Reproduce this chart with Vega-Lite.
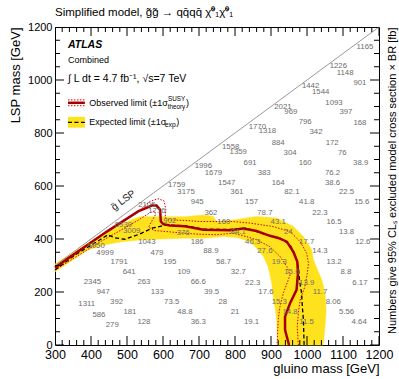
{
"$schema": "https://vega.github.io/schema/vega-lite/v6.json",
"width": 324, "height": 318,
"autosize": {"type": "none"},
"padding": {"left": 55, "top": 27, "right": 20, "bottom": 34},
"title": {"text": "Simplified model, g\u0303g\u0303 \u2192 qq\u0304qq\u0304 \u03c7\u0303\u2070\u2081\u03c7\u0303\u2070\u2081", "anchor": "start", "frame": "group", "fontSize": 11.5, "font": "Liberation Sans", "fontWeight": "normal", "offset": 3, "color": "#000"},
"config": {"view": {"stroke": "#000", "strokeWidth": 1}, "font": "Liberation Sans",
  "axis": {"grid": false, "domain": false, "ticks": false, "labelColor": "#000", "titleColor": "#000", "labelFont": "Liberation Sans", "titleFont": "Liberation Sans", "titleFontWeight": "normal"}},
"datasets": {
  "band": [
    {"o":1,"x":300,"y":306},{"o":2,"x":425,"y":413},{"o":3,"x":508,"y":470},{"o":4,"x":536,"y":484},{"o":5,"x":661,"y":484},{"o":6,"x":712,"y":491},{"o":7,"x":740,"y":485},{"o":8,"x":749,"y":466},{"o":9,"x":795,"y":472},{"o":10,"x":860,"y":485},{"o":11,"x":916,"y":479},{"o":12,"x":962,"y":447},{"o":13,"x":990,"y":409},{"o":14,"x":1013,"y":359},{"o":15,"x":1018,"y":321},{"o":16,"x":1027,"y":291},{"o":17,"x":1041,"y":246},{"o":18,"x":1050,"y":195},{"o":19,"x":1053,"y":132},{"o":20,"x":1050,"y":69},{"o":21,"x":1045,"y":0},
    {"o":22,"x":920,"y":0},{"o":23,"x":917,"y":44},{"o":24,"x":916,"y":95},{"o":25,"x":911,"y":145},{"o":26,"x":905,"y":195},{"o":27,"x":902,"y":234},{"o":28,"x":892,"y":296},{"o":29,"x":879,"y":334},{"o":30,"x":860,"y":365},{"o":31,"x":842,"y":390},{"o":32,"x":805,"y":406},{"o":33,"x":767,"y":409},{"o":34,"x":712,"y":403},{"o":35,"x":652,"y":403},{"o":36,"x":578,"y":399},{"o":37,"x":541,"y":397},{"o":38,"x":485,"y":390},{"o":39,"x":439,"y":378},{"o":40,"x":392,"y":359},{"o":41,"x":300,"y":276}
  ],
  "obs": [
    {"o":1,"x":300,"y":291},{"o":2,"x":337,"y":327},{"o":3,"x":444,"y":428},{"o":4,"x":531,"y":504},{"o":5,"x":569,"y":526},{"o":6,"x":582,"y":526},{"o":7,"x":592,"y":510},{"o":8,"x":594,"y":466},{"o":9,"x":601,"y":456},{"o":10,"x":619,"y":451},{"o":11,"x":661,"y":448},{"o":12,"x":712,"y":435},{"o":13,"x":786,"y":433},{"o":14,"x":823,"y":440},{"o":15,"x":860,"y":430},{"o":16,"x":897,"y":412},{"o":17,"x":920,"y":404},{"o":18,"x":944,"y":390},{"o":19,"x":962,"y":352},{"o":20,"x":973,"y":315},{"o":21,"x":975,"y":271},{"o":22,"x":971,"y":208},{"o":23,"x":953,"y":158},{"o":24,"x":939,"y":107},{"o":25,"x":939,"y":57},{"o":26,"x":950,"y":0}
  ],
  "exp": [
    {"o":1,"x":300,"y":283},{"o":2,"x":356,"y":340},{"o":3,"x":425,"y":397},{"o":4,"x":447,"y":416},{"o":5,"x":467,"y":404},{"o":6,"x":494,"y":399},{"o":7,"x":536,"y":419},{"o":8,"x":572,"y":442},{"o":9,"x":611,"y":453},{"o":10,"x":661,"y":450},{"o":11,"x":712,"y":437},{"o":12,"x":786,"y":436},{"o":13,"x":832,"y":441},{"o":14,"x":879,"y":419},{"o":15,"x":925,"y":403},{"o":16,"x":953,"y":378},{"o":17,"x":967,"y":340},{"o":18,"x":976,"y":296},{"o":19,"x":979,"y":246},{"o":20,"x":985,"y":195},{"o":21,"x":987,"y":145},{"o":22,"x":990,"y":95},{"o":23,"x":992,"y":0}
  ],
  "obsUp": [
    {"o":1,"x":300,"y":298},{"o":2,"x":425,"y":412},{"o":3,"x":536,"y":510},{"o":4,"x":564,"y":542},{"o":5,"x":586,"y":552},{"o":6,"x":603,"y":544},{"o":7,"x":608,"y":510},{"o":8,"x":606,"y":480},{"o":9,"x":619,"y":472},{"o":10,"x":661,"y":470},{"o":11,"x":703,"y":466},{"o":12,"x":795,"y":466},{"o":13,"x":842,"y":460},{"o":14,"x":906,"y":447},{"o":15,"x":953,"y":428},{"o":16,"x":981,"y":390},{"o":17,"x":999,"y":346},{"o":18,"x":1004,"y":309},{"o":19,"x":1001,"y":271},{"o":20,"x":994,"y":220},{"o":21,"x":981,"y":170},{"o":22,"x":976,"y":120},{"o":23,"x":973,"y":69},{"o":24,"x":976,"y":0}
  ],
  "obsDn": [
    {"o":1,"x":300,"y":283},{"o":2,"x":425,"y":389},{"o":3,"x":530,"y":470},{"o":4,"x":562,"y":498},{"o":5,"x":576,"y":506},{"o":6,"x":580,"y":494},{"o":7,"x":570,"y":470},{"o":8,"x":560,"y":445},{"o":9,"x":575,"y":432},{"o":10,"x":610,"y":428},{"o":11,"x":656,"y":422},{"o":12,"x":703,"y":418},{"o":13,"x":749,"y":416},{"o":14,"x":795,"y":422},{"o":15,"x":832,"y":409},{"o":16,"x":860,"y":397},{"o":17,"x":897,"y":371},{"o":18,"x":925,"y":334},{"o":19,"x":944,"y":296},{"o":20,"x":953,"y":264},{"o":21,"x":948,"y":246},{"o":22,"x":934,"y":195},{"o":23,"x":925,"y":145},{"o":24,"x":920,"y":95},{"o":25,"x":917,"y":0}
  ],
  "diag": [{"o":1,"x":300,"y":300},{"o":2,"x":1200,"y":1200}],
  "xMaj": [{"v":300},{"v":400},{"v":500},{"v":600},{"v":700},{"v":800},{"v":900},{"v":1000},{"v":1100},{"v":1200}],
  "xMin": [{"v":320},{"v":340},{"v":360},{"v":380},{"v":420},{"v":440},{"v":460},{"v":480},{"v":520},{"v":540},{"v":560},{"v":580},{"v":620},{"v":640},{"v":660},{"v":680},{"v":720},{"v":740},{"v":760},{"v":780},{"v":820},{"v":840},{"v":860},{"v":880},{"v":920},{"v":940},{"v":960},{"v":980},{"v":1020},{"v":1040},{"v":1060},{"v":1080},{"v":1120},{"v":1140},{"v":1160},{"v":1180}],
  "yMaj": [{"v":0},{"v":200},{"v":400},{"v":600},{"v":800},{"v":1000},{"v":1200}],
  "yMin": [{"v":50},{"v":100},{"v":150},{"v":250},{"v":300},{"v":350},{"v":450},{"v":500},{"v":550},{"v":650},{"v":700},{"v":750},{"v":850},{"v":900},{"v":950},{"v":1050},{"v":1100},{"v":1150}],
  "nums": [
    {"x":1161,"y":1126,"t":"1165"},{"x":1087,"y":1054,"t":"1226"},{"x":1106,"y":1026,"t":"1148"},{"x":1147,"y":989,"t":"901"},{"x":1010,"y":976,"t":"1442"},{"x":1038,"y":953,"t":"1544"},{"x":1075,"y":915,"t":"1093"},{"x":1108,"y":881,"t":"397"},{"x":933,"y":900,"t":"2021"},{"x":955,"y":879,"t":"969"},{"x":995,"y":841,"t":"796"},{"x":1147,"y":838,"t":"168"},{"x":862,"y":822,"t":"1770"},{"x":890,"y":806,"t":"1318"},{"x":1025,"y":802,"t":"342"},{"x":920,"y":764,"t":"884"},{"x":1070,"y":762,"t":"172"},{"x":788,"y":749,"t":"1558"},{"x":809,"y":727,"t":"1359"},{"x":953,"y":724,"t":"304"},{"x":1098,"y":724,"t":"76"},{"x":712,"y":676,"t":"1996"},{"x":842,"y":686,"t":"691"},{"x":995,"y":686,"t":"160"},{"x":1149,"y":686,"t":"38.9"},{"x":740,"y":649,"t":"1679"},{"x":881,"y":649,"t":"383"},{"x":1071,"y":649,"t":"76.2"},{"x":777,"y":613,"t":"1547"},{"x":920,"y":613,"t":"164"},{"x":1071,"y":613,"t":"38.6"},{"x":638,"y":602,"t":"1759"},{"x":664,"y":577,"t":"3175"},{"x":805,"y":577,"t":"361"},{"x":958,"y":577,"t":"82.1"},{"x":1110,"y":577,"t":"22.5"},{"x":695,"y":538,"t":"945"},{"x":846,"y":538,"t":"157"},{"x":999,"y":538,"t":"41.8"},{"x":1152,"y":538,"t":"15.6"},{"x":555,"y":529,"t":"2105"},{"x":583,"y":506,"t":"1716"},{"x":733,"y":500,"t":"362"},{"x":883,"y":500,"t":"78.7"},{"x":1036,"y":500,"t":"22.3"},{"x":619,"y":469,"t":"902"},{"x":769,"y":464,"t":"160"},{"x":920,"y":464,"t":"43.1"},{"x":1075,"y":464,"t":"16.5"},{"x":490,"y":453,"t":"6930"},{"x":513,"y":432,"t":"3009"},{"x":656,"y":424,"t":"376"},{"x":809,"y":428,"t":"84.1"},{"x":948,"y":428,"t":"24"},{"x":1110,"y":428,"t":"13.8"},{"x":555,"y":390,"t":"1043"},{"x":695,"y":390,"t":"186"},{"x":849,"y":390,"t":"46.3"},{"x":999,"y":390,"t":"17.7"},{"x":1155,"y":390,"t":"12.6"},{"x":414,"y":374,"t":"5050"},{"x":439,"y":349,"t":"4999"},{"x":583,"y":349,"t":"479"},{"x":733,"y":353,"t":"88.9"},{"x":883,"y":353,"t":"27.6"},{"x":1036,"y":353,"t":"14.3"},{"x":478,"y":312,"t":"1791"},{"x":619,"y":312,"t":"195"},{"x":768,"y":315,"t":"58.7"},{"x":923,"y":315,"t":"19.3"},{"x":1075,"y":315,"t":"13.2"},{"x":506,"y":275,"t":"641"},{"x":658,"y":275,"t":"109"},{"x":809,"y":276,"t":"32.7"},{"x":958,"y":274,"t":"15.6"},{"x":1108,"y":274,"t":"8.8"},{"x":404,"y":237,"t":"2345"},{"x":547,"y":237,"t":"263"},{"x":698,"y":237,"t":"66.6"},{"x":849,"y":235,"t":"22.3"},{"x":999,"y":235,"t":"13.9"},{"x":1147,"y":235,"t":"6.17"},{"x":434,"y":199,"t":"947"},{"x":584,"y":199,"t":"133"},{"x":735,"y":199,"t":"39.5"},{"x":886,"y":199,"t":"17.6"},{"x":1036,"y":199,"t":"11.7"},{"x":388,"y":154,"t":"1311"},{"x":471,"y":164,"t":"392"},{"x":624,"y":164,"t":"73.5"},{"x":766,"y":161,"t":"28"},{"x":923,"y":161,"t":"15.3"},{"x":1073,"y":161,"t":"8.06"},{"x":422,"y":113,"t":"586"},{"x":508,"y":126,"t":"181"},{"x":661,"y":126,"t":"48.8"},{"x":800,"y":124,"t":"21"},{"x":953,"y":124,"t":"14.8"},{"x":1110,"y":124,"t":"5.56"},{"x":459,"y":76,"t":"279"},{"x":547,"y":88,"t":"128"},{"x":698,"y":88,"t":"36.3"},{"x":846,"y":88,"t":"19.1"},{"x":999,"y":88,"t":"11.5"},{"x":1145,"y":88,"t":"4.64"}
  ],
  "one": [{}]
},
"layer": [
  {"data": {"name": "band"},
   "mark": {"type": "line", "fill": "#fee21e", "stroke": "#fee21e", "strokeWidth": 0.5, "interpolate": "linear-closed"},
   "encoding": {
     "x": {"field": "x", "type": "quantitative", "scale": {"domain": [300, 1200], "nice": false, "zero": false},
       "axis": {"orient": "bottom", "values": [300,400,500,600,700,800,900,1000,1100,1200], "labelPadding": 3, "labelFontSize": 12.5, "labelFlush": false, "format": "d", "title": "gluino mass [GeV]", "titleAnchor": "end", "titleFontSize": 13, "titlePadding": 2}},
     "y": {"field": "y", "type": "quantitative", "scale": {"domain": [0, 1200], "nice": false, "zero": false},
       "axis": {"orient": "left", "values": [0,200,400,600,800,1000,1200], "labelPadding": 3, "labelFontSize": 11, "format": "d", "title": "LSP mass [GeV]", "titleAnchor": "end", "titleFontSize": 13, "titlePadding": 5}},
     "order": {"field": "o", "type": "quantitative"}}},
  {"data": {"name": "obsDn"},
   "mark": {"type": "line", "stroke": "#d40000", "strokeWidth": 1, "strokeDash": [1.5, 1.5]},
   "encoding": {
     "x": {"field": "x", "type": "quantitative", "axis": null},
     "y": {"field": "y", "type": "quantitative", "axis": null},
     "order": {"field": "o", "type": "quantitative"}}},
  {"data": {"name": "obsUp"},
   "mark": {"type": "line", "stroke": "#d40000", "strokeWidth": 1, "strokeDash": [1.5, 1.5]},
   "encoding": {
     "x": {"field": "x", "type": "quantitative", "axis": null},
     "y": {"field": "y", "type": "quantitative", "axis": null},
     "order": {"field": "o", "type": "quantitative"}}},
  {"data": {"name": "exp"},
   "mark": {"type": "line", "stroke": "#000000", "strokeWidth": 1.3, "strokeDash": [4, 2.5]},
   "encoding": {
     "x": {"field": "x", "type": "quantitative", "axis": null},
     "y": {"field": "y", "type": "quantitative", "axis": null},
     "order": {"field": "o", "type": "quantitative"}}},
  {"data": {"name": "obs"},
   "mark": {"type": "line", "stroke": "#a80000", "strokeWidth": 2.5},
   "encoding": {
     "x": {"field": "x", "type": "quantitative", "axis": null},
     "y": {"field": "y", "type": "quantitative", "axis": null},
     "order": {"field": "o", "type": "quantitative"}}},
  {"data": {"name": "diag"},
   "mark": {"type": "line", "stroke": "#9a9a9a", "strokeWidth": 1},
   "encoding": {
     "x": {"field": "x", "type": "quantitative", "axis": null},
     "y": {"field": "y", "type": "quantitative", "axis": {"orient": "right", "labels": false, "title": "Numbers give 95% CL\u209b excluded model cross section \u00d7 BR [fb]", "titleAnchor": "end", "titleAngle": -90, "titleAlign": "right", "titleBaseline": "top", "titleFontSize": 11, "titlePadding": 7}},
     "order": {"field": "o", "type": "quantitative"}}},
  {"data": {"name": "xMaj"}, "mark": {"type": "tick", "orient": "vertical", "size": 18, "thickness": 1, "color": "#000", "opacity": 1, "clip": true},
   "encoding": {"x": {"field": "v", "type": "quantitative", "axis": null}, "y": {"datum": 0, "type": "quantitative", "axis": null}}},
  {"data": {"name": "xMaj"}, "mark": {"type": "tick", "orient": "vertical", "size": 18, "thickness": 1, "color": "#000", "opacity": 1, "clip": true},
   "encoding": {"x": {"field": "v", "type": "quantitative", "axis": null}, "y": {"datum": 1200, "type": "quantitative", "axis": null}}},
  {"data": {"name": "xMin"}, "mark": {"type": "tick", "orient": "vertical", "size": 10, "thickness": 1, "color": "#000", "opacity": 1, "clip": true},
   "encoding": {"x": {"field": "v", "type": "quantitative", "axis": null}, "y": {"datum": 0, "type": "quantitative", "axis": null}}},
  {"data": {"name": "xMin"}, "mark": {"type": "tick", "orient": "vertical", "size": 10, "thickness": 1, "color": "#000", "opacity": 1, "clip": true},
   "encoding": {"x": {"field": "v", "type": "quantitative", "axis": null}, "y": {"datum": 1200, "type": "quantitative", "axis": null}}},
  {"data": {"name": "yMaj"}, "mark": {"type": "tick", "orient": "horizontal", "size": 18, "thickness": 1, "color": "#000", "opacity": 1, "clip": true},
   "encoding": {"y": {"field": "v", "type": "quantitative", "axis": null}, "x": {"datum": 300, "type": "quantitative", "axis": null}}},
  {"data": {"name": "yMaj"}, "mark": {"type": "tick", "orient": "horizontal", "size": 18, "thickness": 1, "color": "#000", "opacity": 1, "clip": true},
   "encoding": {"y": {"field": "v", "type": "quantitative", "axis": null}, "x": {"datum": 1200, "type": "quantitative", "axis": null}}},
  {"data": {"name": "yMin"}, "mark": {"type": "tick", "orient": "horizontal", "size": 10, "thickness": 1, "color": "#000", "opacity": 1, "clip": true},
   "encoding": {"y": {"field": "v", "type": "quantitative", "axis": null}, "x": {"datum": 300, "type": "quantitative", "axis": null}}},
  {"data": {"name": "yMin"}, "mark": {"type": "tick", "orient": "horizontal", "size": 10, "thickness": 1, "color": "#000", "opacity": 1, "clip": true},
   "encoding": {"y": {"field": "v", "type": "quantitative", "axis": null}, "x": {"datum": 1200, "type": "quantitative", "axis": null}}},
  {"data": {"name": "nums"},
   "mark": {"type": "text", "fontSize": 7.8, "color": "#6e6e6e", "font": "Liberation Sans"},
   "encoding": {
     "x": {"field": "x", "type": "quantitative", "axis": null},
     "y": {"field": "y", "type": "quantitative", "axis": null},
     "text": {"field": "t", "type": "nominal"}}},
  {"data": {"name": "one"}, "mark": {"type": "text", "text": "g\u0303 LSP", "fontSize": 10, "angle": -36, "color": "#222"},
   "encoding": {"x": {"datum": 490, "type": "quantitative", "axis": null}, "y": {"datum": 546, "type": "quantitative", "axis": null}}},
  {"data": {"name": "one"}, "mark": {"type": "text", "text": "ATLAS", "fontSize": 10.5, "fontWeight": "bold", "fontStyle": "italic", "align": "left", "baseline": "middle", "color": "#000"},
   "encoding": {"x": {"datum": 336, "type": "quantitative", "axis": null}, "y": {"datum": 1133, "type": "quantitative", "axis": null}}},
  {"data": {"name": "one"}, "mark": {"type": "text", "text": "Combined", "fontSize": 9, "align": "left", "baseline": "middle", "color": "#000"},
   "encoding": {"x": {"datum": 336, "type": "quantitative", "axis": null}, "y": {"datum": 1074, "type": "quantitative", "axis": null}}},
  {"data": {"name": "one"}, "mark": {"type": "text", "text": "\u222b L dt = 4.7 fb\u207b\u00b9, \u221as=7 TeV", "fontSize": 10.5, "align": "left", "baseline": "middle", "color": "#000"},
   "encoding": {"x": {"datum": 336, "type": "quantitative", "axis": null}, "y": {"datum": 1004, "type": "quantitative", "axis": null}}},
  {"data": {"name": "one"}, "mark": {"type": "rule", "stroke": "#d40000", "strokeWidth": 1, "strokeDash": [1.5, 1.5]},
   "encoding": {"x": {"datum": 336, "type": "quantitative", "axis": null}, "x2": {"datum": 383}, "y": {"datum": 925, "type": "quantitative", "axis": null}}},
  {"data": {"name": "one"}, "mark": {"type": "rule", "stroke": "#d40000", "strokeWidth": 1, "strokeDash": [1.5, 1.5]},
   "encoding": {"x": {"datum": 336, "type": "quantitative", "axis": null}, "x2": {"datum": 383}, "y": {"datum": 903, "type": "quantitative", "axis": null}}},
  {"data": {"name": "one"}, "mark": {"type": "rule", "stroke": "#a80000", "strokeWidth": 2.5},
   "encoding": {"x": {"datum": 336, "type": "quantitative", "axis": null}, "x2": {"datum": 383}, "y": {"datum": 914, "type": "quantitative", "axis": null}}},
  {"data": {"name": "one"}, "mark": {"type": "rect", "fill": "#fee21e"},
   "encoding": {"x": {"datum": 336, "type": "quantitative", "axis": null}, "x2": {"datum": 383}, "y": {"datum": 820, "type": "quantitative", "axis": null}, "y2": {"datum": 861}}},
  {"data": {"name": "one"}, "mark": {"type": "rule", "stroke": "#000", "strokeWidth": 1.3, "strokeDash": [4, 2.5]},
   "encoding": {"x": {"datum": 336, "type": "quantitative", "axis": null}, "x2": {"datum": 383}, "y": {"datum": 840, "type": "quantitative", "axis": null}}},
  {"data": {"name": "one"}, "mark": {"type": "text", "text": "Observed limit (\u00b11\u03c3", "fontSize": 9, "align": "left", "baseline": "middle", "color": "#000"},
   "encoding": {"x": {"datum": 395, "type": "quantitative", "axis": null}, "y": {"datum": 914, "type": "quantitative", "axis": null}}},
  {"data": {"name": "one"}, "mark": {"type": "text", "text": "SUSY", "fontSize": 6.3, "align": "left", "baseline": "middle", "color": "#000"},
   "encoding": {"x": {"datum": 614, "type": "quantitative", "axis": null}, "y": {"datum": 928, "type": "quantitative", "axis": null}}},
  {"data": {"name": "one"}, "mark": {"type": "text", "text": "theory", "fontSize": 6.3, "align": "left", "baseline": "middle", "color": "#000"},
   "encoding": {"x": {"datum": 613, "type": "quantitative", "axis": null}, "y": {"datum": 899, "type": "quantitative", "axis": null}}},
  {"data": {"name": "one"}, "mark": {"type": "text", "text": ")", "fontSize": 9, "align": "left", "baseline": "middle", "color": "#000"},
   "encoding": {"x": {"datum": 664, "type": "quantitative", "axis": null}, "y": {"datum": 914, "type": "quantitative", "axis": null}}},
  {"data": {"name": "one"}, "mark": {"type": "text", "text": "Expected limit (\u00b11\u03c3", "fontSize": 9, "align": "left", "baseline": "middle", "color": "#000"},
   "encoding": {"x": {"datum": 395, "type": "quantitative", "axis": null}, "y": {"datum": 840, "type": "quantitative", "axis": null}}},
  {"data": {"name": "one"}, "mark": {"type": "text", "text": "exp", "fontSize": 6.8, "align": "left", "baseline": "middle", "color": "#000"},
   "encoding": {"x": {"datum": 605, "type": "quantitative", "axis": null}, "y": {"datum": 830, "type": "quantitative", "axis": null}}},
  {"data": {"name": "one"}, "mark": {"type": "text", "text": ")", "fontSize": 9, "align": "left", "baseline": "middle", "color": "#000"},
   "encoding": {"x": {"datum": 637, "type": "quantitative", "axis": null}, "y": {"datum": 840, "type": "quantitative", "axis": null}}}
],
"resolve": {"axis": {"x": "independent", "y": "independent"}}
}
